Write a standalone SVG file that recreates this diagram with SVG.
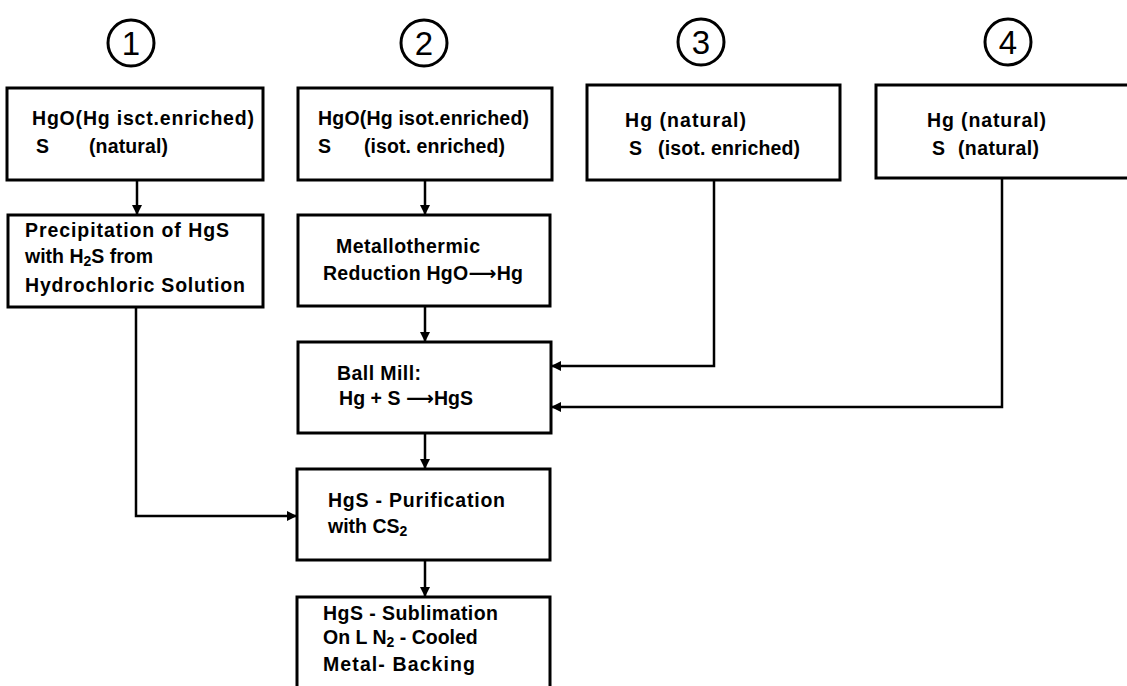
<svg xmlns="http://www.w3.org/2000/svg" width="1127" height="686" viewBox="0 0 1127 686">
<style>
  .box { fill: none; stroke: #000; stroke-width: 3; }
  .t { font-family: "Liberation Sans", Arial, sans-serif; font-weight: bold; font-size: 19.5px; fill: #000; }
  .sub { font-size: 14px; }
  .ar { font-family: "DejaVu Sans", sans-serif; }
  .num { font-family: "Liberation Sans", Arial, sans-serif; font-size: 33px; fill: #000; text-anchor: middle; }
  .circ { fill: none; stroke: #000; stroke-width: 3; }
  .conn { fill: none; stroke: #000; stroke-width: 2.5; marker-end: url(#arr); }
</style>
<defs>
  <marker id="arr" viewBox="0 0 10 10" refX="9" refY="5" markerWidth="4" markerHeight="4" orient="auto" markerUnits="strokeWidth">
    <path d="M0,0 L10,5 L0,10 z" fill="#000"/>
  </marker>
</defs>
<rect width="1127" height="686" fill="#fff"/>

<g id="label1"><circle class="circ" cx="131" cy="43" r="23"/><text class="num" x="131" y="55">1</text></g>
<g id="label2"><circle class="circ" cx="424" cy="43" r="23"/><text class="num" x="424" y="55">2</text></g>
<g id="label3"><circle class="circ" cx="701" cy="42" r="23"/><text class="num" x="701" y="54">3</text></g>
<g id="label4"><circle class="circ" cx="1008" cy="42" r="23"/><text class="num" x="1008" y="54">4</text></g>

<g id="box1">
  <rect class="box" x="7" y="88" width="256" height="92"/>
  <text class="t" x="32" y="125" textLength="222" lengthAdjust="spacing">HgO(Hg isct.enriched)</text>
  <text class="t" x="36" y="153">S</text>
  <text class="t" x="89" y="153" textLength="79" lengthAdjust="spacing">(natural)</text>
</g>
<g id="box2">
  <rect class="box" x="298" y="88" width="254" height="92"/>
  <text class="t" x="318" y="125" textLength="211" lengthAdjust="spacing">HgO(Hg isot.enriched)</text>
  <text class="t" x="318" y="153">S</text>
  <text class="t" x="364" y="153" textLength="141" lengthAdjust="spacing">(isot. enriched)</text>
</g>
<g id="box3">
  <rect class="box" x="587" y="85" width="253" height="95"/>
  <text class="t" x="625" y="127" textLength="121" lengthAdjust="spacing">Hg (natural)</text>
  <text class="t" x="629" y="155">S</text>
  <text class="t" x="658" y="155" textLength="142" lengthAdjust="spacing">(isot. enriched)</text>
</g>
<g id="box4">
  <rect class="box" x="876" y="85" width="260" height="93"/>
  <text class="t" x="927" y="127" textLength="119" lengthAdjust="spacing">Hg (natural)</text>
  <text class="t" x="932" y="155">S</text>
  <text class="t" x="958" y="155" textLength="81" lengthAdjust="spacing">(natural)</text>
</g>
<g id="precipitation">
  <rect class="box" x="8" y="215" width="255" height="92"/>
  <text class="t" x="25" y="237" textLength="204" lengthAdjust="spacing">Precipitation of HgS</text>
  <text class="t" x="25" y="263">with H<tspan class="sub" dy="3">2</tspan><tspan dy="-3">S  from</tspan></text>
  <text class="t" x="25" y="292" textLength="220" lengthAdjust="spacing">Hydrochloric Solution</text>
</g>
<g id="reduction">
  <rect class="box" x="298" y="215" width="252" height="91"/>
  <text class="t" x="336" y="253" textLength="144" lengthAdjust="spacing">Metallothermic</text>
  <text class="t" x="323" y="280" textLength="200" lengthAdjust="spacing">Reduction HgO<tspan class="ar">⟶</tspan>Hg</text>
</g>
<g id="ballmill">
  <rect class="box" x="298" y="342" width="253" height="91"/>
  <text class="t" x="337" y="380" textLength="84" lengthAdjust="spacing">Ball Mill:</text>
  <text class="t" x="339" y="405" textLength="134" lengthAdjust="spacing">Hg + S <tspan class="ar">⟶</tspan>HgS</text>
</g>
<g id="purification">
  <rect class="box" x="297" y="469" width="253" height="91"/>
  <text class="t" x="328" y="507" textLength="177" lengthAdjust="spacing">HgS - Purification</text>
  <text class="t" x="328" y="533">with CS<tspan class="sub" dy="3">2</tspan></text>
</g>
<g id="sublimation">
  <rect class="box" x="297" y="597" width="253" height="95"/>
  <text class="t" x="323" y="620" textLength="175" lengthAdjust="spacing">HgS - Sublimation</text>
  <text class="t" x="323" y="644">On L N<tspan class="sub" dy="3">2</tspan><tspan dy="-3"> - Cooled</tspan></text>
  <text class="t" x="323" y="671" textLength="152" lengthAdjust="spacing">Metal- Backing</text>
</g>

<g id="connectors">
  <path class="conn" d="M137,180 V214"/>
  <path class="conn" d="M425,180 V214"/>
  <path class="conn" d="M425,306 V341"/>
  <path class="conn" d="M714,180 V366 H552"/>
  <path class="conn" d="M1002,178 V407 H552"/>
  <path class="conn" d="M425,433 V468"/>
  <path class="conn" d="M136,307 V516 H296"/>
  <path class="conn" d="M425,560 V596"/>
</g>
</svg>
